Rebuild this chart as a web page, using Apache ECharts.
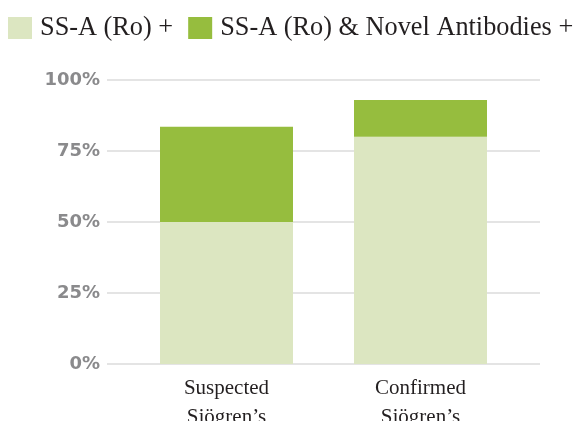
<!DOCTYPE html>
<html>
<head>
<meta charset="utf-8">
<script src="https://cdn.jsdelivr.net/npm/echarts@6/dist/echarts.min.js"></script>
<style>
  html, body { margin: 0; padding: 0; background: #fff; }
  #chart { width: 576px; height: 421px; }
</style>
</head>
<body>
<div id="chart"></div>
<script>
const categories = ['Suspected\nSjögren’s', 'Confirmed\nSjögren’s']
const ssaOnly = [50, 80]
const ssaNovel = [33.5, 13]
const yTicks = [0, 25, 50, 75, 100]

const serif = '"Liberation Serif", "DejaVu Serif", serif'

const chart = echarts.init(document.getElementById('chart'))

chart.setOption({
  animation: false,
  legend: {
    left: 8,
    top: 15,
    padding: 0,
    itemWidth: 24,
    itemHeight: 22,
    itemGap: 15,
    icon: 'rect',
    textStyle: { fontFamily: serif, fontSize: 26.3, color: '#231f20', padding: [0, 0, 0, 3] },
    data: ['SS-A (Ro) +', 'SS-A (Ro) & Novel Antibodies +']
  },
  grid: [
    // background grid: y labels and horizontal lines
    { left: 107, right: 36, top: 80, bottom: 57, outerBoundsMode: 'none' },
    // bar grid: narrower so the bars sit where they do in the original
    { left: 129.5, right: 58.5, top: 80, bottom: 57, outerBoundsMode: 'none' }
  ],
  xAxis: [
    { gridIndex: 0, type: 'category', data: categories, show: false },
    {
      gridIndex: 1,
      type: 'category',
      data: categories,
      axisLine: { show: false },
      axisTick: { show: false },
      axisLabel: {
        margin: 10,
        fontFamily: serif,
        fontSize: 21,
        lineHeight: 29,
        color: '#231f20'
      }
    }
  ],
  yAxis: [
    {
      gridIndex: 0,
      type: 'value',
      min: yTicks[0],
      max: yTicks[yTicks.length - 1],
      interval: 25,
      axisLine: { show: false },
      axisTick: { show: false },
      axisLabel: {
        formatter: '{value}%',
        margin: 7,
        fontFamily: '"DejaVu Sans", sans-serif',
        fontWeight: 'bold',
        fontSize: 18,
        color: '#8a8a8c'
      },
      splitLine: { lineStyle: { color: '#e4e4e4', width: 2 } }
    },
    {
      gridIndex: 1,
      type: 'value',
      min: yTicks[0],
      max: yTicks[yTicks.length - 1],
      interval: 25,
      show: false,
      splitLine: { show: false }
    }
  ],
  series: [
    {
      name: 'SS-A (Ro) +',
      type: 'bar',
      stack: 'total',
      xAxisIndex: 1,
      yAxisIndex: 1,
      barWidth: 133,
      itemStyle: { color: '#dce6c1' },
      data: ssaOnly
    },
    {
      name: 'SS-A (Ro) & Novel Antibodies +',
      type: 'bar',
      stack: 'total',
      xAxisIndex: 1,
      yAxisIndex: 1,
      barWidth: 133,
      itemStyle: { color: '#96bd3e' },
      data: ssaNovel
    }
  ]
})
</script>
</body>
</html>
